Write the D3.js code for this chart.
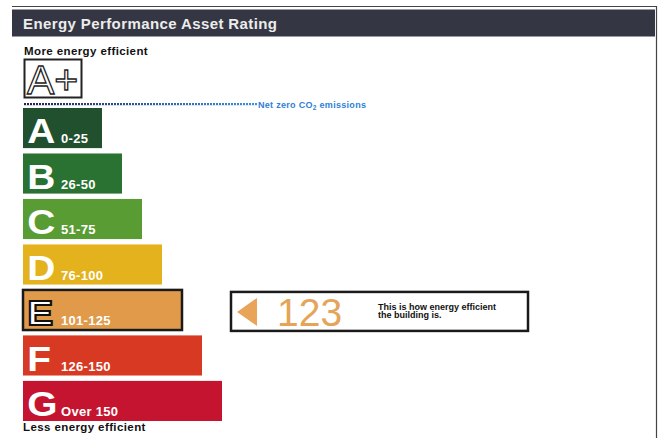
<!DOCTYPE html>
<html>
<head>
<meta charset="utf-8">
<script src="https://cdn.jsdelivr.net/npm/d3@7"></script>
<style>
  body { margin: 0; background: #fff; }
  svg { font-family: "Liberation Sans", Arial, sans-serif; }
</style>
</head>
<body>
<div id="chart"></div>
<script>
// rating bands, top (most efficient) to bottom
const bands = ['A', 'B', 'C', 'D', 'E', 'F', 'G'];
const bandRanges = ['0-25', '26-50', '51-75', '76-100', '101-125', '126-150', 'Over 150'];
const bandUpper = [25, 50, 75, 100, 125, 150, 175];
const bandColors = ['#21502e', '#2a7231', '#5a9c34', '#e4b21d', '#e09a4a', '#d73923', '#c5142f'];

const rating = 123;
const ratingText = ['This is how energy efficient', 'the building is.'];

const width = 659, height = 438;

const svg = d3.select('#chart')
    .append('svg')
    .attr('width', width)
    .attr('height', height);

// frame + header
svg.append('path')
    .attr('d', `M12,6.5 H656.5 V${height}`)
    .attr('fill', 'none')
    .attr('stroke', '#444')
    .attr('stroke-width', 1.2);

svg.append('rect')
    .attr('x', 12).attr('y', 9.5)
    .attr('width', 643).attr('height', 27)
    .attr('fill', '#343743');

svg.append('text')
    .attr('x', 23).attr('y', 28.5)
    .attr('fill', '#ececec')
    .attr('font-size', 15)
    .attr('font-weight', 'bold')
    .attr('letter-spacing', 0.4)
    .text('Energy Performance Asset Rating');

svg.append('text')
    .attr('x', 24).attr('y', 55)
    .attr('font-size', 11.5)
    .attr('font-weight', 'bold')
    .attr('letter-spacing', 0.4)
    .attr('fill', '#111')
    .text('More energy efficient');

// A+ box
svg.append('rect')
    .attr('x', 24.5).attr('y', 59.5)
    .attr('width', 57).attr('height', 38)
    .attr('fill', '#fff')
    .attr('stroke', '#222')
    .attr('stroke-width', 2);

svg.append('text')
    .attr('x', 27).attr('y', 94)
    .attr('font-size', 41)
    .attr('fill', '#fff')
    .attr('stroke', '#222')
    .attr('stroke-width', 1.3)
    .text('A+');

// net zero line
const grad = svg.append('defs').append('linearGradient')
    .attr('id', 'dots')
    .attr('x1', '0%').attr('x2', '100%');
grad.append('stop').attr('offset', '0%').attr('stop-color', '#1c2450');
grad.append('stop').attr('offset', '100%').attr('stop-color', '#3d8fe0');

svg.append('rect')
    .attr('x', 24).attr('y', 103)
    .attr('width', 233).attr('height', 2.2)
    .attr('fill', 'url(#dots)');

svg.append('line')
    .attr('x1', 24).attr('x2', 257)
    .attr('y1', 104).attr('y2', 104)
    .attr('stroke', '#fff')
    .attr('stroke-width', 3)
    .attr('stroke-dasharray', '0,2,1,0');

const netZero = svg.append('text')
    .attr('x', 258).attr('y', 107.5)
    .attr('font-size', 9)
    .attr('font-weight', 'bold')
    .attr('letter-spacing', 0.3)
    .attr('fill', '#2f80d6');
netZero.append('tspan').text('Net zero CO');
netZero.append('tspan').attr('font-size', 6.5).attr('dy', 2).text('2');
netZero.append('tspan').attr('dy', -2).text(' emissions');

// scales
const y = d3.scaleBand(bands, [108, 421]).paddingInner(0.118);
const w = d3.scaleLinear([0, 175], [59, 199]);
const x0 = 23;

const current = bands[bandUpper.findIndex(u => rating <= u)];

const rows = svg.append('g')
    .selectAll('g')
    .data(bands)
    .join('g')
    .attr('transform', d => `translate(${x0},${y(d)})`);

rows.append('rect')
    .attr('width', (d, i) => w(bandUpper[i]))
    .attr('height', y.bandwidth())
    .attr('fill', (d, i) => bandColors[i])
    .attr('stroke', d => d === current ? '#1a1a1a' : 'none')
    .attr('stroke-width', 2.5);

rows.append('text')
    .attr('x', 4)
    .attr('y', y.bandwidth() - 5)
    .attr('font-size', 36)
    .attr('font-weight', 'bold')
    .attr('fill', '#fff')
    .attr('stroke', d => d === current ? '#111' : 'none')
    .attr('stroke-width', 2)
    .attr('transform', 'scale(1.08,1)')
    .text(d => d);

rows.append('text')
    .attr('x', 38)
    .attr('y', y.bandwidth() - 5)
    .attr('font-size', 13)
    .attr('font-weight', 'bold')
    .attr('letter-spacing', 0.3)
    .attr('fill', '#fff')
    .text((d, i) => bandRanges[i]);

svg.append('text')
    .attr('x', 23).attr('y', 431)
    .attr('font-size', 11.5)
    .attr('font-weight', 'bold')
    .attr('letter-spacing', 0.4)
    .attr('fill', '#111')
    .text('Less energy efficient');

// rating indicator
const box = svg.append('g')
    .attr('transform', `translate(231,${y(current) + 2})`);

box.append('rect')
    .attr('width', 297).attr('height', 39)
    .attr('fill', '#fff')
    .attr('stroke', '#1a1a1a')
    .attr('stroke-width', 2.5);

box.append('path')
    .attr('d', 'M6,20 L26,6 V34 Z')
    .attr('fill', '#e8a55a');

box.append('text')
    .attr('x', 46).attr('y', 34)
    .attr('font-size', 39)
    .attr('fill', '#e4a45a')
    .text(rating);

box.selectAll('.note')
    .data(ratingText)
    .join('text')
    .attr('class', 'note')
    .attr('x', 147)
    .attr('y', (d, i) => 18 + i * 8.5)
    .attr('font-size', 9)
    .attr('font-weight', 'bold')
    .attr('fill', '#111')
    .text(d => d);
</script>
</body>
</html>
